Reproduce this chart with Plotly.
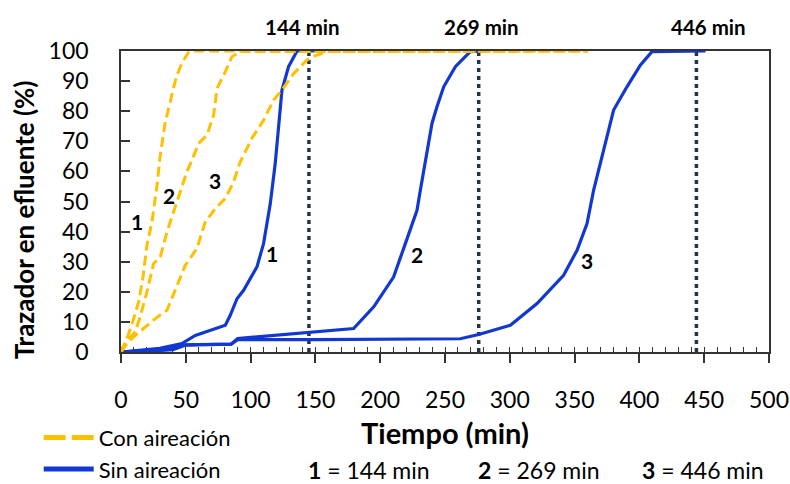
import plotly.graph_objects as go

# ---------------- data ----------------
# Con aireación (yellow dashed), runs 1-3
con1_x = [0, 5, 9, 13.6, 17, 20, 23.9, 27.8, 30.3, 34.2, 38, 40, 43.2, 47, 52, 55, 360]
con1_y = [0, 5, 10, 16.6, 25, 35.5, 43.2, 55.4, 65.4, 76.5, 83.1, 87, 92, 96, 99.5, 100, 100]

con2_x = [0, 5, 11, 15, 20, 25.2, 30.3, 35.5, 40.6, 45.8, 50.9, 55, 59.9, 66.4, 71.5, 74.1, 80.5, 85.6, 92, 360]
con2_y = [0, 4, 6.7, 12, 20, 29.4, 31.6, 39.9, 46.6, 53.2, 59.9, 64, 69.3, 72.1, 78.7, 87.6, 93.1, 98.1, 99.8, 100]

con3_x = [0, 5, 11, 18.8, 26.5, 35.5, 43.2, 49.6, 58.6, 65, 72.8, 80.5, 86.9, 92, 101, 110, 117.7, 124.2,
          133.2, 143.5, 150, 159, 360]
con3_y = [0, 3, 5.5, 8.3, 11.1, 13.9, 22.2, 28.8, 34.4, 43.2, 47.7, 51, 56.5, 63.2, 71, 77, 83.7, 87,
          92.5, 97, 98.5, 99.8, 100]

# Sin aireación (blue solid), runs 1-3
sin1_x = [0, 10, 20, 30, 39.3, 47, 57.3, 65, 72.8, 80.5, 84.3, 89.5, 94.6, 99.8, 104.9, 110, 115.2, 119,
          121.6, 124.2, 129.3, 135.8, 150]
sin1_y = [0, 0.3, 0.8, 1.2, 2.2, 2.8, 5.5, 6.7, 7.8, 8.9, 12.2, 17.7, 20.5, 24.4, 28.3, 36, 49.3, 62.6,
          73.7, 87, 94.8, 100, 100]

sin2_x = [0, 10, 20, 30, 40, 50, 60, 85, 90, 179.5, 195, 210.3, 219.4, 228.4, 231, 234.8, 240, 243.8,
          249, 258, 264, 269.5, 280]
sin2_y = [0, 0.3, 0.6, 0.9, 1.5, 2.4, 2.5, 2.6, 4.5, 7.8, 15, 24.9, 36, 47.1, 53.8, 62.6, 76, 81.5,
          88.1, 94.8, 97.5, 99.8, 100]

sin3_x = [0, 20, 40, 50, 85, 90, 150, 200, 261.8, 276, 300.4, 321, 341.5, 351.9, 359.6, 364.7, 369.8,
          380.1, 390.4, 400.7, 409.7, 451]
sin3_y = [0, 0.2, 0.8, 2.3, 2.6, 4.1, 4.1, 4.2, 4.4, 5.8, 8.9, 16.1, 25.5, 33.8, 42.7, 53.8, 62.6,
          80.4, 88.1, 95.3, 99.8, 100]

# reference time lines and their labels
ref_line_x = [145, 276, 444]
ref_label_x = [140.3, 278, 453.2]
ref_labels = ["144 min", "269 min", "446 min"]

# curve number labels
con_lab_x = [12.3, 36.8, 72.2]
con_lab_y = [43.2, 52.1, 57.1]
sin_lab_x = [116.5, 228.4, 359.6]
sin_lab_y = [32.7, 32.5, 30.5]
run_labels = ["1", "2", "3"]

series_names = ["Con aireación", "Sin aireación"]

x_ticks = [0, 50, 100, 150, 200, 250, 300, 350, 400, 450, 500]
y_ticks = [0, 10, 20, 30, 40, 50, 60, 70, 80, 90, 100]

YELLOW = "#FFC000"
BLUE = "#1238D2"
DOT = "#243447"
FONT = "Lato"

fig = go.Figure()

con_series = [(con1_x, con1_y), (con2_x, con2_y), (con3_x, con3_y)]
sin_series = [(sin1_x, sin1_y), (sin2_x, sin2_y), (sin3_x, sin3_y)]

# vertical dotted lines
for vx in ref_line_x:
    fig.add_trace(go.Scatter(x=[vx, vx], y=[0, 100], mode="lines", showlegend=False,
                             line=dict(color=DOT, width=3.5, dash="4px,4px"), hoverinfo="skip",
                             cliponaxis=False))

for i, (xs, ys) in enumerate(sin_series):
    fig.add_trace(go.Scatter(x=xs, y=ys, mode="lines", name=series_names[1],
                             legendgroup="sin", showlegend=False,
                             line=dict(color=BLUE, width=3.2), cliponaxis=False))

for i, (xs, ys) in enumerate(con_series):
    fig.add_trace(go.Scatter(x=xs, y=ys, mode="lines", name=series_names[0],
                             legendgroup="con", showlegend=False,
                             line=dict(color=YELLOW, width=3, dash="10px,5px"), cliponaxis=False))

# legend-only entries (heavier sample lines, as in the original key)
fig.add_trace(go.Scatter(x=[None], y=[None], mode="lines", name=series_names[0], legendgroup="con",
                         showlegend=True, legendrank=1,
                         line=dict(color=YELLOW, width=5, dash="22px,6px")))
fig.add_trace(go.Scatter(x=[None], y=[None], mode="lines", name=series_names[1], legendgroup="sin",
                         showlegend=True, legendrank=2,
                         line=dict(color=BLUE, width=5)))

ann = []
for t, x in zip(ref_labels, ref_label_x):
    ann.append(dict(x=x, y=1.081, xref="x", yref="paper", text="<b>%s</b>" % t, showarrow=False,
                    font=dict(size=20.5, color="black", family=FONT), xanchor="center", yanchor="middle"))
for t, x, y in zip(run_labels, con_lab_x, con_lab_y):
    ann.append(dict(x=x, y=y, xref="x", yref="y", text="<b>%s</b>" % t, showarrow=False,
                    font=dict(size=21, color="black", family=FONT)))
for t, x, y in zip(run_labels, sin_lab_x, sin_lab_y):
    ann.append(dict(x=x, y=y, xref="x", yref="y", text="<b>%s</b>" % t, showarrow=False,
                    font=dict(size=21, color="black", family=FONT)))

# axis titles
ann.append(dict(x=0.5, y=-0.267, xref="paper", yref="paper", text="<b>Tiempo (min)</b>",
                showarrow=False, font=dict(size=29, color="black", family=FONT),
                xanchor="center", yanchor="middle"))
ann.append(dict(x=-0.15, y=0.44, xref="paper", yref="paper", text="<b>Trazador en efluente (%)</b>",
                showarrow=False, textangle=-90, font=dict(size=26, color="black", family=FONT),
                xanchor="center", yanchor="middle"))

# key for run numbers
key_x = [0.2855, 0.548, 0.801]
for t, lab, x in zip(run_labels, ref_labels, key_x):
    ann.append(dict(x=x, y=-0.393, xref="paper", yref="paper",
                    text="<b>%s</b> = %s" % (t, lab), showarrow=False,
                    font=dict(size=23, color="black", family=FONT), xanchor="left", yanchor="middle"))

fig.update_layout(
    width=790, height=484,
    margin=dict(l=121, r=21, t=51, b=132, autoexpand=False),
    paper_bgcolor="white", plot_bgcolor="white",
    font=dict(family=FONT, color="black"),
    annotations=ann,
    legend=dict(x=-0.127, y=-0.215, xanchor="left", yanchor="top", orientation="v",
                font=dict(size=22, color="black", family=FONT), bgcolor="rgba(0,0,0,0)",
                itemwidth=50, traceorder="normal"),
    xaxis=dict(range=[0, 500], tickvals=x_ticks, ticks="outside", ticklen=9, tickwidth=1.5,
               tickcolor="#333", showline=True, linecolor="#333", linewidth=1.5, mirror=True,
               showgrid=False, zeroline=False, tickfont=dict(size=23, color="black"),
               ticklabelstandoff=18, layer="below traces",
               minor=dict(dtick=10, ticks="inside", ticklen=5, tickwidth=1.2, tickcolor="#333")),
    yaxis=dict(range=[0, 100], tickvals=y_ticks, ticks="inside", ticklen=9, tickwidth=1.5,
               tickcolor="#333", showline=True, linecolor="#333", linewidth=1.5, mirror=True,
               showgrid=False, zeroline=False, tickfont=dict(size=23, color="black"),
               ticklabelstandoff=26, layer="below traces"),
)

fig.write_html("out.html")
